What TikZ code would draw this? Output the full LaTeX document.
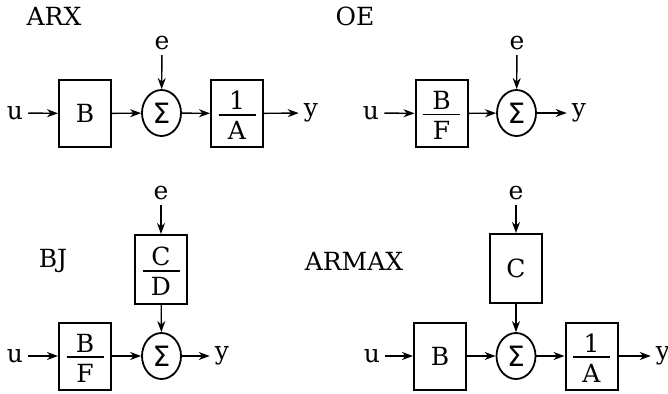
\documentclass[tikz,border=0pt]{standalone}
\usepackage{fontspec}
\setmainfont{DejaVu Serif}
\newfontfamily\sigfont{DejaVu Sans}
\usetikzlibrary{arrows.meta,shapes.geometric}
\newcommand\myfrac[2]{\vbox{\kern4pt\hbox to 37pt{\hss#1\hss}\kern4pt\hrule height 1.8pt\kern6pt\hbox to 37pt{\hss#2\hss}}}
\newcommand\sig{{\sigfont\fontsize{28}{30}\selectfont Σ}}
\tikzset{
  blk/.style={draw,line width=2pt,minimum width=52pt,minimum height=67pt,inner sep=0pt},
  sumn/.style={draw,ellipse,line width=1.8pt,minimum width=39pt,minimum height=46pt,inner sep=0pt},
  lbl/.style={inner sep=5pt},
  ttl/.style={inner sep=0pt},
  sig/.style={-{Stealth[length=11pt,width=8pt,inset=3.5pt]},line width=1.4pt},
}
\begin{document}
\begin{tikzpicture}[x=1pt,y=-1pt,font=\fontsize{25}{30}\selectfont]
\useasboundingbox (0,0) rectangle (668,393);
% ARX
\node[ttl] (tarx) at (54,16) {ARX};
\node[lbl] (u1) at (15,113) {u};
\node[blk] (b1) at (85,113.5) {B};
\node[sumn] (s1) at (161.5,113) {\sig};
\node[lbl] (e1) at (162,43) {e};
\node[blk] (a1) at (237,113.5) {\myfrac{1}{A}};
\node[lbl] (y1) at (311,113) {y};
\draw[sig] (u1) -- (b1);
\draw[sig] (b1) -- (s1);
\draw[sig] (e1) -- (s1);
\draw[sig] (s1) -- (a1);
\draw[sig] (a1) -- (y1);
% OE
\node[ttl] (toe) at (355,16) {OE};
\node[lbl] (u2) at (371,113) {u};
\node[blk] (b2) at (441.5,113.5) {\myfrac{B}{F}};
\node[sumn] (s2) at (516.5,113) {\sig};
\node[lbl] (e2) at (517,43) {e};
\node[lbl] (y2) at (579,113) {y};
\draw[sig] (u2) -- (b2);
\draw[sig] (b2) -- (s2);
\draw[sig] (e2) -- (s2);
\draw[sig] (s2) -- (y2);
% BJ
\node[ttl] (tbj) at (53,261) {BJ};
\node[lbl] (e3) at (161,193) {e};
\node[blk,minimum height=69pt] (c3) at (161,269.5) {\myfrac{C}{D}};
\node[sumn] (s3) at (161.5,356) {\sig};
\node[blk] (b3) at (85,356) {\myfrac{B}{F}};
\node[lbl] (u3) at (15,356) {u};
\node[lbl] (y3) at (222,356) {y};
\draw[sig] (e3) -- (c3);
\draw[sig] (c3) -- (s3);
\draw[sig] (u3) -- (b3);
\draw[sig] (b3) -- (s3);
\draw[sig] (s3) -- (y3);
% ARMAX
\node[ttl] (tarmax) at (354,261) {ARMAX};
\node[lbl] (e4) at (516,193) {e};
\node[blk,minimum height=69pt] (c4) at (516,268.5) {C};
\node[sumn] (s4) at (516,356) {\sig};
\node[blk] (b4) at (440,356) {B};
\node[lbl] (u4) at (372,356) {u};
\node[blk] (a4) at (591.5,356) {\myfrac{1}{A}};
\node[lbl] (y4) at (663,356) {y};
\draw[sig] (e4) -- (c4);
\draw[sig] (c4) -- (s4);
\draw[sig] (u4) -- (b4);
\draw[sig] (b4) -- (s4);
\draw[sig] (s4) -- (a4);
\draw[sig] (a4) -- (y4);
\end{tikzpicture}
\end{document}
